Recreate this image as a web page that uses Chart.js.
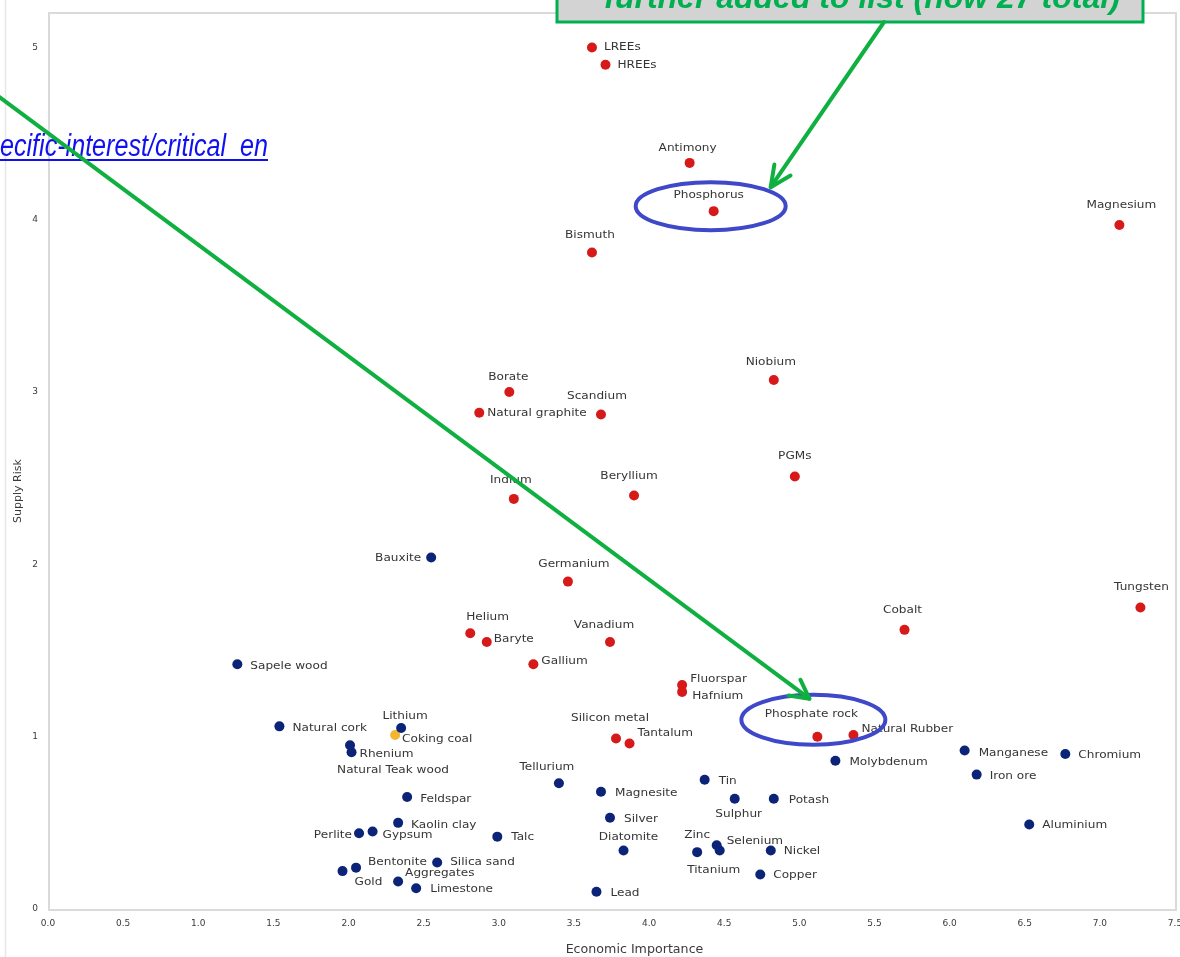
<!DOCTYPE html>
<html><head><meta charset="utf-8">
<script src="https://cdn.jsdelivr.net/npm/chart.js@4.4.1/dist/chart.umd.min.js"></script>
<style>html,body{margin:0;padding:0;background:#fff;overflow:hidden}canvas{display:block}</style>
</head><body>
<canvas id="c" width="1180" height="957"></canvas>
<script>
// ---------- DATA ----------
const xTickValues = [0,0.5,1,1.5,2,2.5,3,3.5,4,4.5,5,5.5,6,6.5,7,7.5];
const yTickValues = [0,1,2,3,4,5];
const xAxisTitle = 'Economic Importance';
const yAxisTitle = 'Supply Risk';

const criticalNames = ['LREEs','HREEs','Antimony','Phosphorus','Magnesium','Bismuth','Niobium','Borate','Natural graphite','Scandium','PGMs','Indium','Beryllium','Germanium','Tungsten','Cobalt','Helium','Baryte','Vanadium','Gallium','Fluorspar','Hafnium','Silicon metal','Tantalum','Phosphate rock','Natural Rubber'];
const criticalEconomicImportance = [3.62,3.71,4.27,4.43,7.13,3.62,4.83,3.07,2.87,3.68,4.97,3.10,3.90,3.46,7.27,5.70,2.81,2.92,3.74,3.23,4.22,4.22,3.78,3.87,5.12,5.36];
const criticalSupplyRisk = [5.00,4.90,4.33,4.05,3.97,3.81,3.07,3.00,2.88,2.87,2.51,2.38,2.40,1.90,1.75,1.62,1.60,1.55,1.55,1.42,1.30,1.26,0.99,0.96,1.00,1.01];

const newNames = ['Coking coal'];
const newEconomicImportance = [2.31];
const newSupplyRisk = [1.01];

const nonCriticalNames = ['Bauxite','Sapele wood','Natural cork','Lithium','Natural Teak wood','Rhenium','Manganese','Chromium','Molybdenum','Iron ore','Tin','Tellurium','Magnesite','Feldspar','Potash','Sulphur','Silver','Aluminium','Kaolin clay','Gypsum','Perlite','Talc','Zinc','Selenium','Titanium','Diatomite','Nickel','Copper','Lead','Bentonite','Silica sand','Gold','Aggregates','Limestone'];
const nonCriticalEconomicImportance = [2.55,1.26,1.54,2.35,2.01,2.02,6.10,6.77,5.24,6.18,4.37,3.40,3.68,2.39,4.83,4.57,3.74,6.53,2.33,2.16,2.07,2.99,4.32,4.45,4.47,3.83,4.81,4.74,3.65,2.05,2.59,1.96,2.33,2.45];
const nonCriticalSupplyRisk = [2.04,1.42,1.06,1.05,0.95,0.91,0.92,0.90,0.86,0.78,0.75,0.73,0.68,0.65,0.64,0.64,0.53,0.49,0.50,0.45,0.44,0.42,0.33,0.37,0.34,0.34,0.34,0.20,0.10,0.24,0.27,0.22,0.16,0.12];

// ---------- LABEL PLACEMENT (layout only: [dx, dy, align]) ----------
const criticalLabelPlacement = [[12,0,'left'],[12,0,'left'],[-2,-15,'center'],[-5,-16,'center'],[2,-20,'center'],[-2,-17,'center'],[-3,-18,'center'],[-1,-15,'center'],[8,0,'left'],[-4,-18,'center'],[0,-20,'center'],[-3,-19,'center'],[-5,-19,'center'],[6,-17,'center'],[1,-20,'center'],[-2,-20,'center'],[-4,-16,'left'],[7,-3,'left'],[-6,-17,'center'],[8,-3,'left'],[8,-6,'left'],[10,4,'left'],[-6,-20,'center'],[8,-10,'left'],[-6,-23,'center'],[8,-6,'left']];
const newLabelPlacement = [[7,4,'left']];
const nonCriticalLabelPlacement = [[-10,1,'right'],[13,2,'left'],[13,2,'left'],[4,-12,'center'],[43,25,'center'],[8,2,'left'],[14,3,'left'],[13,1,'left'],[14,1,'left'],[13,2,'left'],[14,1,'left'],[-12,-16,'center'],[14,1,'left'],[13,2,'left'],[15,1,'left'],[4,15,'center'],[14,1,'left'],[13,1,'left'],[13,2,'left'],[10,4,'left'],[-7,2,'right'],[14,1,'left'],[0,-17,'center'],[10,-4,'left'],[-6,20,'center'],[5,-13,'center'],[13,1,'left'],[13,1,'left'],[14,1,'left'],[12,-6,'left'],[13,0,'left'],[12,11,'left'],[7,-8,'left'],[14,1,'left']];

const toPoints = (xs, ys) => xs.map((x, i) => ({x: x, y: ys[i]}));
const STRETCH = 1.1;

const labelPlugin = {
  id: 'pointLabels',
  afterDatasetsDraw(chart) {
    const ctx = chart.ctx;
    ctx.save();
    ctx.font = '11px "DejaVu Sans"';
    ctx.fillStyle = '#353535';
    ctx.textBaseline = 'middle';
    ctx.textAlign = 'left';
    chart.data.datasets.forEach((ds, di) => {
      const meta = chart.getDatasetMeta(di);
      meta.data.forEach((pt, i) => {
        const p = ds.labelPlacement[i];
        const text = ds.names[i];
        const w = ctx.measureText(text).width * STRETCH;
        let x = pt.x + p[0];
        if (p[2] === 'center') x -= w / 2; else if (p[2] === 'right') x -= w;
        ctx.save();
        ctx.translate(x, pt.y + p[1]);
        ctx.scale(STRETCH, 1);
        ctx.fillText(text, 0, 0);
        ctx.restore();
      });
    });
    ctx.restore();
  }
};

const framePlugin = {
  id: 'frame',
  beforeDatasetsDraw(chart) {
    const {ctx, chartArea: a} = chart;
    ctx.save();
    ctx.strokeStyle = '#dadada';
    ctx.lineWidth = 2;
    ctx.strokeRect(a.left + 1, a.top, a.right - a.left, a.bottom - a.top + 1);
    ctx.strokeStyle = '#e8e8e8';
    ctx.lineWidth = 1.5;
    ctx.beginPath(); ctx.moveTo(5.5, 0); ctx.lineTo(5.5, chart.height); ctx.stroke();
    // axis titles
    ctx.fillStyle = '#3a3a3a';
    ctx.textBaseline = 'middle';
    ctx.textAlign = 'center';
    ctx.font = '11px "DejaVu Sans"';
    ctx.save();
    ctx.translate(18, (a.top + a.bottom) / 2 + 30);
    ctx.rotate(-Math.PI / 2);
    ctx.fillText(yAxisTitle, 0, 0);
    ctx.restore();
    ctx.save();
    ctx.translate((a.left + a.right) / 2 + 23, 950);
    ctx.scale(STRETCH, 1);
    ctx.font = '11.5px "DejaVu Sans"';
    ctx.fillText(xAxisTitle, 0, 0);
    ctx.restore();
    ctx.restore();
  }
};

function arrow(ctx, x0, y0, x1, y1, len, ang) {
  ctx.beginPath(); ctx.moveTo(x0, y0); ctx.lineTo(x1, y1); ctx.stroke();
  const back = Math.atan2(y0 - y1, x0 - x1);
  ctx.beginPath();
  ctx.moveTo(x1 + len * Math.cos(back - ang), y1 + len * Math.sin(back - ang));
  ctx.lineTo(x1, y1);
  ctx.lineTo(x1 + len * Math.cos(back + ang), y1 + len * Math.sin(back + ang));
  ctx.stroke();
}

const annotationPlugin = {
  id: 'annotations',
  afterDraw(chart) {
    const ctx = chart.ctx;
    const xs = chart.scales.x, ys = chart.scales.y;
    ctx.save();
    // cropped link text
    const link = 'http://ec.europa.eu/growth/sectors/raw-materials/specific-interest/critical_en';
    const tail = 'ecific-interest/critical_en';
    ctx.font = 'italic 31px "Liberation Sans Narrow", "Liberation Sans", Arial, sans-serif';
    const sc = 268 / ctx.measureText(tail).width;
    ctx.fillStyle = '#1010f0';
    ctx.textBaseline = 'alphabetic';
    ctx.save();
    ctx.translate(268, 156);
    ctx.scale(sc, 1);
    ctx.textAlign = 'right';
    ctx.fillText(link, 0, 0);
    ctx.restore();
    ctx.strokeStyle = '#1010f0'; ctx.lineWidth = 2;
    ctx.beginPath(); ctx.moveTo(0, 160); ctx.lineTo(268, 160); ctx.stroke();

    // header callout box (cropped at top)
    ctx.fillStyle = '#d3d3d3';
    ctx.fillRect(557, -40, 586, 62);
    ctx.strokeStyle = '#00b050'; ctx.lineWidth = 3;
    ctx.strokeRect(557, -40, 586, 62);
    ctx.fillStyle = '#00b050';
    ctx.font = 'italic bold 32px "Liberation Sans", Arial, sans-serif';
    ctx.textAlign = 'center';
    ctx.fillText('further added to list (now 27 total)', 862, 8);

    // ellipses anchored to the highlighted points
    const ph = {x: xs.getPixelForValue(criticalEconomicImportance[3]), y: ys.getPixelForValue(criticalSupplyRisk[3])};
    const pr = {x: xs.getPixelForValue(criticalEconomicImportance[24]), y: ys.getPixelForValue(criticalSupplyRisk[24])};
    const e1 = {x: ph.x - 3, y: ph.y - 5};
    const e2 = {x: pr.x - 4, y: pr.y - 17};
    ctx.strokeStyle = '#3f48c8'; ctx.lineWidth = 4;
    ctx.beginPath(); ctx.ellipse(e1.x, e1.y, 75, 24, 0, 0, Math.PI * 2); ctx.stroke();
    ctx.beginPath(); ctx.ellipse(e2.x, e2.y, 72, 25, 0, 0, Math.PI * 2); ctx.stroke();

    // green arrows
    ctx.strokeStyle = '#10b040'; ctx.lineWidth = 4; ctx.lineCap = 'round'; ctx.lineJoin = 'round';
    arrow(ctx, -10, 90, e2.x - 4, e2.y - 21, 21, 0.49);
    arrow(ctx, 884, 22, e1.x + 60, e1.y - 19, 23, 0.44);
    ctx.restore();
  }
};

const tickFont = {family: '"DejaVu Sans"', size: 9};

new Chart(document.getElementById('c'), {
  type: 'scatter',
  data: {
    datasets: [
      {label: 'Non-critical', names: nonCriticalNames, labelPlacement: nonCriticalLabelPlacement,
       data: toPoints(nonCriticalEconomicImportance, nonCriticalSupplyRisk),
       backgroundColor: '#0c2478', borderWidth: 0, pointRadius: 5, pointHoverRadius: 5},
      {label: 'Newly added', names: newNames, labelPlacement: newLabelPlacement,
       data: toPoints(newEconomicImportance, newSupplyRisk),
       backgroundColor: '#f2b630', borderWidth: 0, pointRadius: 5, pointHoverRadius: 5},
      {label: 'Critical', names: criticalNames, labelPlacement: criticalLabelPlacement,
       data: toPoints(criticalEconomicImportance, criticalSupplyRisk),
       backgroundColor: '#d61a1a', borderWidth: 0, pointRadius: 5, pointHoverRadius: 5}
    ]
  },
  options: {
    responsive: false,
    animation: false,
    devicePixelRatio: 1,
    layout: {padding: {top: 13, right: 4, left: 0, bottom: 0}},
    plugins: {legend: {display: false}, tooltip: {enabled: false}},
    scales: {
      x: {
        type: 'linear', min: 0, max: 7.5,
        afterBuildTicks: s => { s.ticks = xTickValues.map(v => ({value: v})); },
        afterFit: s => { s.height = 48; s.paddingLeft = 0; s.paddingRight = 0; },
        grid: {display: false, drawTicks: false},
        border: {display: false},
        ticks: {font: tickFont, color: '#3a3a3a', padding: 9, maxRotation: 0, autoSkip: false,
                callback: v => Number(v).toFixed(1)},
        title: {display: false, text: xAxisTitle}
      },
      y: {
        type: 'linear', min: 0, max: 5.2,
        afterBuildTicks: s => { s.ticks = yTickValues.map(v => ({value: v})); },
        afterFit: s => { s.width = 48; s.paddingTop = 0; s.paddingBottom = 0; },
        grid: {display: false, drawTicks: false},
        border: {display: false},
        ticks: {font: tickFont, color: '#3a3a3a', padding: 10, autoSkip: false},
        title: {display: false, text: yAxisTitle}
      }
    }
  },
  plugins: [framePlugin, labelPlugin, annotationPlugin]
});
</script>
</body></html>
